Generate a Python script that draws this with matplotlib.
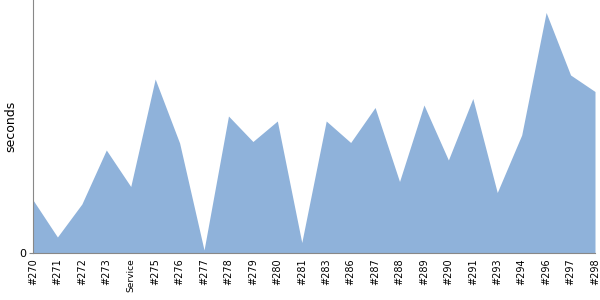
import matplotlib
matplotlib.use("Agg")
import matplotlib.pyplot as plt

# build labels and durations (arbitrary units)
builds = ["#270", "#271", "#272", "#273", "Service", "#275", "#276", "#277",
          "#278", "#279", "#280", "#281", "#283", "#286", "#287", "#288",
          "#289", "#290", "#291", "#293", "#294", "#296", "#297", "#298"]
durations = [53, 16, 49, 103, 66.5, 174, 110, 3,
             137, 111.5, 132, 10.5, 132, 110.5, 145.5, 71.5,
             148, 93, 154.5, 60.5, 118, 240.5, 178, 161.5]

fig = plt.figure(figsize=(6, 3), dpi=100)
ax = fig.add_axes([33 / 600, 47 / 300, 562 / 600, 253 / 300])

x = list(range(len(builds)))
ax.fill_between(x, durations, 0, color="#8fb2da", linewidth=0)

ax.set_xlim(0, len(builds) - 1)
ax.set_ylim(0, 253)
ax.set_xticks(x)
ax.set_xticklabels(builds, rotation=90, fontsize=7)
for lbl in ax.get_xticklabels():
    if lbl.get_text() == "Service":
        lbl.set_fontsize(6.5)
ax.tick_params(axis="x", length=0, pad=4)
ax.set_yticks([0])
ax.tick_params(axis="y", length=3, labelsize=8, color="#888888", pad=2)
ax.set_ylabel("seconds", fontsize=9)
ax.yaxis.set_label_coords(-0.028, 0.5)

for side in ["top", "right"]:
    ax.spines[side].set_visible(False)
for side in ["left", "bottom"]:
    ax.spines[side].set_color("#888888")

fig.savefig("out.png", dpi=100)
